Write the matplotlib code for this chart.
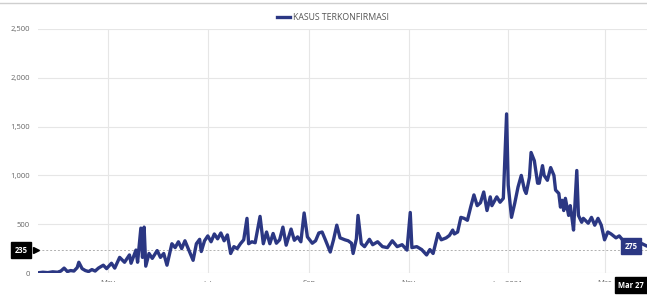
import matplotlib
matplotlib.use("Agg")
import matplotlib.pyplot as plt
from matplotlib.lines import Line2D
from matplotlib.patches import Rectangle
import pandas as pd

plt.rcParams['font.family'] = ['Open Sans', 'DejaVu Sans']

series_name = "KASUS TERKONFIRMASI"
dates = [
    "2020-03-19", "2020-03-22", "2020-03-25", "2020-03-28", "2020-03-31", "2020-04-02", "2020-04-04",
    "2020-04-06", "2020-04-08", "2020-04-10", "2020-04-12", "2020-04-13", "2020-04-15", "2020-04-17",
    "2020-04-19", "2020-04-21", "2020-04-23", "2020-04-25", "2020-04-28", "2020-04-30", "2020-05-03",
    "2020-05-05", "2020-05-08", "2020-05-11", "2020-05-14", "2020-05-15", "2020-05-18", "2020-05-19",
    "2020-05-21", "2020-05-22", "2020-05-23", "2020-05-24", "2020-05-26", "2020-05-28", "2020-05-31",
    "2020-06-02", "2020-06-04", "2020-06-06", "2020-06-09", "2020-06-11", "2020-06-13", "2020-06-15",
    "2020-06-17", "2020-06-19", "2020-06-22", "2020-06-24", "2020-06-26", "2020-06-27", "2020-06-29",
    "2020-07-01", "2020-07-03", "2020-07-05", "2020-07-07", "2020-07-09", "2020-07-11", "2020-07-13",
    "2020-07-15", "2020-07-17", "2020-07-19", "2020-07-21", "2020-07-23", "2020-07-25", "2020-07-26",
    "2020-07-28", "2020-07-30", "2020-08-02", "2020-08-04", "2020-08-06", "2020-08-08", "2020-08-10",
    "2020-08-12", "2020-08-14", "2020-08-16", "2020-08-18", "2020-08-21", "2020-08-23", "2020-08-25",
    "2020-08-27", "2020-08-29", "2020-08-31", "2020-09-03", "2020-09-05", "2020-09-07", "2020-09-09",
    "2020-09-11", "2020-09-14", "2020-09-16", "2020-09-18", "2020-09-20", "2020-09-23", "2020-09-25",
    "2020-09-27", "2020-09-28", "2020-09-30", "2020-10-01", "2020-10-03", "2020-10-05", "2020-10-08",
    "2020-10-10", "2020-10-13", "2020-10-16", "2020-10-19", "2020-10-22", "2020-10-25", "2020-10-28",
    "2020-10-31", "2020-11-02", "2020-11-03", "2020-11-06", "2020-11-09", "2020-11-12", "2020-11-14",
    "2020-11-16", "2020-11-19", "2020-11-21", "2020-11-24", "2020-11-26", "2020-11-28", "2020-11-29",
    "2020-12-01", "2020-12-03", "2020-12-05", "2020-12-07", "2020-12-09", "2020-12-11", "2020-12-13",
    "2020-12-15", "2020-12-17", "2020-12-19", "2020-12-21", "2020-12-22", "2020-12-25", "2020-12-27",
    "2020-12-29", "2020-12-31", "2021-01-01", "2021-01-03", "2021-01-05", "2021-01-07", "2021-01-09",
    "2021-01-11", "2021-01-12", "2021-01-14", "2021-01-15", "2021-01-17", "2021-01-19", "2021-01-20",
    "2021-01-22", "2021-01-23", "2021-01-25", "2021-01-27", "2021-01-29", "2021-01-30", "2021-02-01",
    "2021-02-02", "2021-02-03", "2021-02-04", "2021-02-05", "2021-02-07", "2021-02-08", "2021-02-09",
    "2021-02-10", "2021-02-12", "2021-02-13", "2021-02-15", "2021-02-16", "2021-02-19", "2021-02-21",
    "2021-02-23", "2021-02-25", "2021-02-27", "2021-03-01", "2021-03-03", "2021-03-05", "2021-03-08",
    "2021-03-10", "2021-03-12", "2021-03-15", "2021-03-18", "2021-03-21", "2021-03-24", "2021-03-27",
]
values = [
    2, 8, 4, 12, 8, 20, 50,
    15, 25, 20, 55, 110, 45, 25,
    15, 35, 20, 50, 80, 45, 100,
    50, 160, 110, 185, 100, 235, 110,
    460, 160, 470, 70, 200, 150, 230,
    160, 200, 80, 300, 260, 320, 250,
    330, 250, 130, 300, 345, 220, 330,
    380, 320, 400, 350, 410, 330, 390,
    200, 270, 250, 300, 340, 560, 300,
    320, 310, 580, 300, 420, 300, 405,
    305, 340, 470, 285, 450, 335, 370,
    320, 615, 370, 305, 330, 410, 420,
    340, 215, 340, 490, 360, 340, 330,
    305, 200, 350, 590, 300, 270, 345,
    290, 320, 270, 260, 330, 270, 290,
    235, 620, 260, 270, 240, 185, 240,
    200, 405, 340, 360, 385, 440, 400,
    420, 570, 560, 540, 675, 800, 690,
    720, 830, 640, 780, 690, 780, 725,
    765, 1630, 900, 570, 715, 880, 1000,
    850, 815, 980, 1235, 1150, 920, 920,
    1100, 1000, 950, 1080, 1000, 850, 815,
    675, 745, 640, 765, 590, 690, 570,
    440, 1050, 590, 520, 560, 510, 570,
    490, 560, 490, 340, 420, 400, 360,
    380, 340, 300, 320, 280, 300, 275,
]
y_ticks = [0, 500, 1000, 1500, 2000, 2500]
x_tick_dates = ["2020-05-01", "2020-07-01", "2020-09-01", "2020-11-01", "2021-01-01", "2021-03-01"]
x_tick_labels = ["May", "Jul", "Sep", "Nov", "Jan 2021", "Mar"]
ref_value = 235
last_label = "Mar 27"

W, H = 647, 295
fig = plt.figure(figsize=(W / 100, H / 100), dpi=100)
ax = fig.add_axes([38 / W, 22 / H, 609 / W, 244 / H])

x = pd.to_datetime(dates)
line_color = "#2b3783"
ax.plot(x, values, color=line_color, lw=2.4, solid_joinstyle="round", solid_capstyle="round", zorder=3)

ax.set_ylim(0, 2500)
ax.set_xlim(pd.Timestamp("2020-03-19"), pd.Timestamp("2021-03-27"))
ax.set_yticks(y_ticks)
ax.set_yticklabels([f"{v:,}" for v in y_ticks])
ax.set_xticks(pd.to_datetime(x_tick_dates))
ax.set_xticklabels(x_tick_labels)
ax.grid(True, color="#e6e6e6", lw=0.8)
ax.set_axisbelow(True)
for s in ax.spines.values():
    s.set_visible(False)
ax.tick_params(axis="both", length=0, colors="#666666", labelsize=5.5)
ax.tick_params(axis="y", pad=6)
ax.tick_params(axis="x", pad=5)

# reference dashed line
ax.axhline(ref_value, color="#b0b0b0", lw=0.7, ls=(0, (2, 2)), zorder=2)

# left value label
ax.annotate(str(ref_value), xy=(0, ref_value), xycoords=("axes fraction", "data"),
            xytext=(-17, 0), textcoords="offset pixels", ha="center", va="center",
            color="white", fontsize=5.5, fontweight="bold",
            bbox=dict(boxstyle="square,pad=0.5", fc="black", ec="black"),
            annotation_clip=False, zorder=6)
ax.plot([-0.004], [ref_value], marker=">", color="black", ms=4, transform=ax.get_yaxis_transform(),
        clip_on=False, zorder=6)

# right value label
ax.annotate(str(values[-1]), xy=(x[-1], values[-1]), xytext=(-16, 0), textcoords="offset pixels",
            ha="center", va="center", color="white", fontsize=5.5, fontweight="bold",
            bbox=dict(boxstyle="square,pad=0.5", fc=line_color, ec=line_color),
            annotation_clip=False, zorder=6)

# white cover that clips the x tick labels
fig.patches.append(Rectangle((0, 0), 1, 13 / H, transform=fig.transFigure,
                             fc="white", ec="none", zorder=5))
fig.text(631 / W, 10 / H, last_label, ha="center", va="center", color="white",
         fontsize=5.5, fontweight="bold", zorder=7,
         bbox=dict(boxstyle="square,pad=0.45", fc="black", ec="black"))

# top border line
fig.add_artist(Line2D([0, 1], [1 - 2.5 / H, 1 - 2.5 / H], transform=fig.transFigure,
                      color="#cfcfcf", lw=1.0))

# legend
handle = Line2D([], [], color=line_color, lw=2.4)
fig.legend([handle], [series_name], loc="center", bbox_to_anchor=(333 / W, 1 - 18 / H),
           frameon=False, fontsize=6.3, handlelength=1.5, handletextpad=0.4,
           labelcolor="#555555")

fig.savefig("out.png", dpi=100, facecolor="white")
